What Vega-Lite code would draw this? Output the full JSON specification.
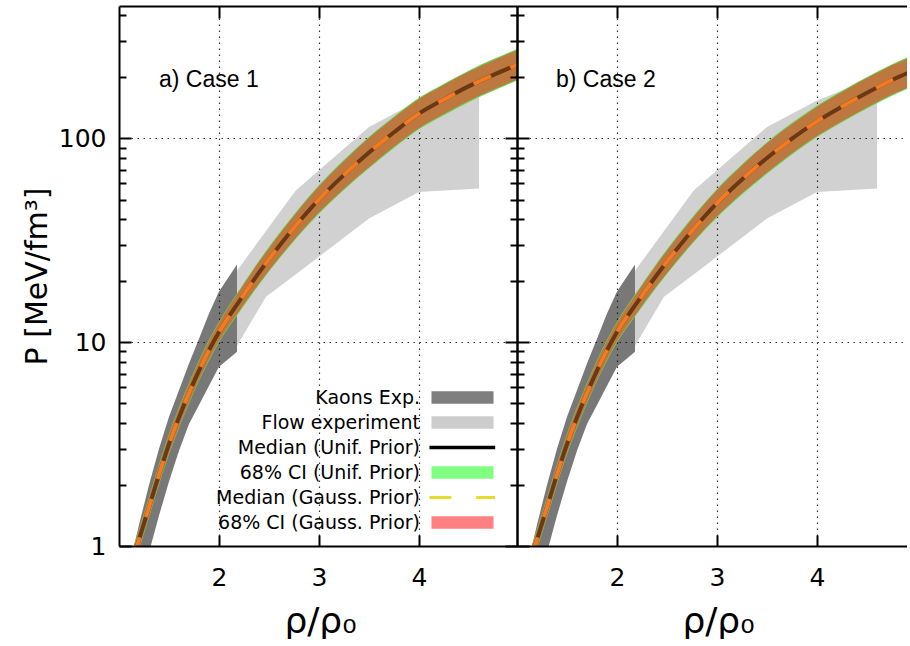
{
  "$schema": "https://vega.github.io/schema/vega-lite/v6.json",
  "autosize": {"type": "pad"},
  "padding": {"left": 22, "top": 5, "right": 0, "bottom": 0},
  "background": "white",
  "spacing": 0,
  "bounds": "flush",
  "config": {
    "view": {"stroke": null},
    "axis": {
      "domainColor": "black",
      "domainWidth": 2,
      "tickColor": "black",
      "tickWidth": 2,
      "labelFont": "DejaVu Sans",
      "labelColor": "black",
      "labelFontSize": 25,
      "labelOverlap": false,
      "labelFlush": false,
      "titleFont": "DejaVu Sans",
      "titleColor": "black",
      "titleFontWeight": "normal",
      "gridColor": "#333333",
      "gridDash": [1.5, 4.5],
      "gridWidth": 1.2
    }
  },
  "datasets": {
    "flow": [
      {"x": 2.18, "lo": 9.6, "hi": 22.4},
      {"x": 2.47, "lo": 16.7, "hi": 35.1},
      {"x": 2.73, "lo": 20.8, "hi": 52.4},
      {"x": 2.77, "lo": 21.5, "hi": 55.6},
      {"x": 3.5, "lo": 40.4, "hi": 113.6},
      {"x": 4.0, "lo": 54.5, "hi": 153},
      {"x": 4.6, "lo": 56.7, "hi": 200}
    ],
    "kaons": [
      {"x": 1.15, "lo": 0.5, "hi": 1.0},
      {"x": 1.2, "lo": 0.62, "hi": 1.27},
      {"x": 1.3, "lo": 0.93, "hi": 1.99},
      {"x": 1.4, "lo": 1.41, "hi": 3.0},
      {"x": 1.5, "lo": 2.07, "hi": 4.3},
      {"x": 1.6, "lo": 2.93, "hi": 5.8},
      {"x": 1.7, "lo": 3.97, "hi": 7.86},
      {"x": 1.8, "lo": 4.92, "hi": 10.4},
      {"x": 1.9, "lo": 6.1, "hi": 13.8},
      {"x": 2.0, "lo": 7.57, "hi": 17.7},
      {"x": 2.1, "lo": 8.3, "hi": 21.0},
      {"x": 2.18, "lo": 8.96, "hi": 24.0}
    ],
    "caseA": [
      {"x": 1.15, "med": 0.90, "gLo": 0.80, "gHi": 1.01, "rLo": 0.811, "rHi": 0.999},
      {"x": 1.18, "med": 1.00, "gLo": 0.889, "gHi": 1.125, "rLo": 0.901, "rHi": 1.11},
      {"x": 1.25, "med": 1.29, "gLo": 1.147, "gHi": 1.451, "rLo": 1.162, "rHi": 1.432},
      {"x": 1.3, "med": 1.55, "gLo": 1.378, "gHi": 1.744, "rLo": 1.396, "rHi": 1.721},
      {"x": 1.4, "med": 2.24, "gLo": 1.991, "gHi": 2.52, "rLo": 2.018, "rHi": 2.486},
      {"x": 1.5, "med": 3.16, "gLo": 2.809, "gHi": 3.555, "rLo": 2.847, "rHi": 3.508},
      {"x": 1.6, "med": 4.27, "gLo": 3.796, "gHi": 4.804, "rLo": 3.847, "rHi": 4.74},
      {"x": 1.7, "med": 5.62, "gLo": 4.996, "gHi": 6.323, "rLo": 5.063, "rHi": 6.238},
      {"x": 1.8, "med": 7.24, "gLo": 6.436, "gHi": 8.145, "rLo": 6.523, "rHi": 8.036},
      {"x": 1.9, "med": 9.12, "gLo": 8.107, "gHi": 10.26, "rLo": 8.216, "rHi": 10.12},
      {"x": 2.0, "med": 11.2, "gLo": 9.956, "gHi": 12.6, "rLo": 10.09, "rHi": 12.43},
      {"x": 2.2, "med": 15.8, "gLo": 13.92, "gHi": 17.93, "rLo": 14.11, "rHi": 17.70},
      {"x": 2.4, "med": 21.9, "gLo": 19.13, "gHi": 25.08, "rLo": 19.38, "rHi": 24.75},
      {"x": 2.6, "med": 29.5, "gLo": 25.54, "gHi": 34.07, "rLo": 25.88, "rHi": 33.63},
      {"x": 2.8, "med": 38.9, "gLo": 33.39, "gHi": 45.32, "rLo": 33.83, "rHi": 44.74},
      {"x": 3.0, "med": 50.1, "gLo": 42.64, "gHi": 58.87, "rLo": 43.19, "rHi": 58.12},
      {"x": 3.25, "med": 66.1, "gLo": 55.78, "gHi": 78.33, "rLo": 56.50, "rHi": 77.34},
      {"x": 3.5, "med": 85.1, "gLo": 71.21, "gHi": 101.7, "rLo": 72.12, "rHi": 100.4},
      {"x": 3.75, "med": 107, "gLo": 89.54, "gHi": 127.9, "rLo": 90.68, "rHi": 126.3},
      {"x": 4.0, "med": 132, "gLo": 110.5, "gHi": 157.7, "rLo": 111.9, "rHi": 155.8},
      {"x": 4.25, "med": 155, "gLo": 129.7, "gHi": 185.2, "rLo": 131.4, "rHi": 182.9},
      {"x": 4.5, "med": 180, "gLo": 150.6, "gHi": 215.1, "rLo": 152.5, "rHi": 212.4},
      {"x": 4.75, "med": 205, "gLo": 171.5, "gHi": 245.0, "rLo": 173.7, "rHi": 241.9},
      {"x": 4.98, "med": 229, "gLo": 191.6, "gHi": 273.7, "rLo": 194.1, "rHi": 270.2}
    ],
    "caseB": [
      {"x": 1.15, "med": 0.90, "gLo": 0.80, "gHi": 1.01, "rLo": 0.811, "rHi": 0.999},
      {"x": 1.18, "med": 1.00, "gLo": 0.889, "gHi": 1.125, "rLo": 0.901, "rHi": 1.11},
      {"x": 1.25, "med": 1.29, "gLo": 1.147, "gHi": 1.451, "rLo": 1.162, "rHi": 1.432},
      {"x": 1.3, "med": 1.55, "gLo": 1.378, "gHi": 1.744, "rLo": 1.396, "rHi": 1.721},
      {"x": 1.4, "med": 2.24, "gLo": 1.991, "gHi": 2.52, "rLo": 2.018, "rHi": 2.486},
      {"x": 1.5, "med": 3.16, "gLo": 2.809, "gHi": 3.555, "rLo": 2.847, "rHi": 3.508},
      {"x": 1.6, "med": 4.27, "gLo": 3.796, "gHi": 4.804, "rLo": 3.847, "rHi": 4.74},
      {"x": 1.7, "med": 5.62, "gLo": 4.996, "gHi": 6.323, "rLo": 5.063, "rHi": 6.238},
      {"x": 1.8, "med": 7.24, "gLo": 6.436, "gHi": 8.145, "rLo": 6.523, "rHi": 8.036},
      {"x": 1.9, "med": 9.12, "gLo": 8.107, "gHi": 10.26, "rLo": 8.216, "rHi": 10.12},
      {"x": 2.0, "med": 11.2, "gLo": 9.956, "gHi": 12.6, "rLo": 10.09, "rHi": 12.43},
      {"x": 2.2, "med": 15.6, "gLo": 13.74, "gHi": 17.71, "rLo": 13.93, "rHi": 17.47},
      {"x": 2.4, "med": 21.4, "gLo": 18.69, "gHi": 24.50, "rLo": 18.94, "rHi": 24.18},
      {"x": 2.6, "med": 28.6, "gLo": 24.76, "gHi": 33.03, "rLo": 25.09, "rHi": 32.60},
      {"x": 2.8, "med": 37.5, "gLo": 32.19, "gHi": 43.69, "rLo": 32.61, "rHi": 43.13},
      {"x": 3.0, "med": 48.0, "gLo": 40.85, "gHi": 56.40, "rLo": 41.38, "rHi": 55.68},
      {"x": 3.25, "med": 62.8, "gLo": 52.99, "gHi": 74.42, "rLo": 53.68, "rHi": 73.48},
      {"x": 3.5, "med": 80.0, "gLo": 66.95, "gHi": 95.60, "rLo": 67.80, "rHi": 94.40},
      {"x": 3.75, "med": 99.5, "gLo": 83.26, "gHi": 118.9, "rLo": 84.32, "rHi": 117.4},
      {"x": 4.0, "med": 121, "gLo": 101.3, "gHi": 144.6, "rLo": 102.5, "rHi": 142.8},
      {"x": 4.25, "med": 143, "gLo": 119.7, "gHi": 170.9, "rLo": 121.2, "rHi": 168.7},
      {"x": 4.5, "med": 167, "gLo": 139.7, "gHi": 199.6, "rLo": 141.5, "rHi": 197.1},
      {"x": 4.75, "med": 193, "gLo": 161.5, "gHi": 230.6, "rLo": 163.6, "rHi": 227.7},
      {"x": 4.98, "med": 216, "gLo": 180.8, "gHi": 258.1, "rLo": 183.1, "rHi": 254.9}
    ],
    "entries": [
      {"series": "Kaons Exp."},
      {"series": "Flow experiment"},
      {"series": "Median (Unif. Prior)"},
      {"series": "68% CI (Unif. Prior)"},
      {"series": "Median (Gauss. Prior)"},
      {"series": "68% CI (Gauss. Prior)"}
    ]
  },
  "hconcat": [
    {
      "width": 398,
      "height": 540,
      "resolve": {"axis": {"x": "independent", "y": "independent"}},
      "layer": [
        {
          "data": {"name": "flow"},
          "mark": {"type": "area", "color": "black", "opacity": 0.18, "clip": true},
          "encoding": {
            "x": {"field": "x", "type": "quantitative",
                  "scale": {"domain": [1, 4.98], "nice": false, "zero": false},
                  "axis": {"orient": "bottom", "values": [2, 3, 4], "tickSize": -11, "labelPadding": 30,
                           "title": "ρ/ρ₀", "titleFontSize": 36, "titlePadding": 14, "titleX": 201,
                           "grid": false, "zindex": 1}},
            "y": {"field": "lo", "type": "quantitative",
                  "scale": {"type": "log", "domain": [1, 445], "nice": false},
                  "axis": {"orient": "left", "values": [1, 10, 100], "format": "d", "tickSize": -12, "labelPadding": 25,
                           "title": "P [MeV/fm³]", "titleFontSize": 30, "titlePadding": 6,
                           "grid": false, "zindex": 1}},
            "y2": {"field": "hi"}
          }
        },
        {
          "data": {"name": "kaons"},
          "mark": {"type": "area", "color": "black", "opacity": 0.53, "clip": true},
          "encoding": {
            "x": {"field": "x", "type": "quantitative",
                  "axis": {"orient": "top", "values": [2, 3, 4], "tickSize": -12, "labels": false,
                           "title": null, "grid": false, "zindex": 1}},
            "y": {"field": "lo", "type": "quantitative", "scale": {"type": "log"},
                  "axis": {"orient": "left", "values": [2, 3, 4, 5, 6, 7, 8, 9, 20, 30, 40, 50, 60, 70, 80, 90, 200, 300, 400],
                           "tickSize": -7, "labels": false, "domain": false, "title": null, "grid": false, "zindex": 1}},
            "y2": {"field": "hi"}
          }
        },
        {
          "data": {"name": "caseA"},
          "mark": {"type": "area", "color": "#66d856", "interpolate": "monotone", "clip": true},
          "encoding": {
            "x": {"field": "x", "type": "quantitative",
                  "axis": {"orient": "bottom", "values": [2, 3, 4], "grid": true, "ticks": false, "labels": false,
                           "domain": false, "title": null, "zindex": 0}},
            "y": {"field": "gLo", "type": "quantitative", "scale": {"type": "log"},
                  "axis": {"orient": "right", "values": [1, 10, 100], "tickSize": -12, "labels": false,
                           "title": null, "grid": false, "zindex": 1}},
            "y2": {"field": "gHi"}
          }
        },
        {
          "data": {"name": "caseA"},
          "mark": {"type": "area", "color": "#bc783e", "interpolate": "monotone", "clip": true},
          "encoding": {
            "x": {"field": "x", "type": "quantitative", "axis": null},
            "y": {"field": "rLo", "type": "quantitative", "scale": {"type": "log"},
                  "axis": {"orient": "right", "values": [2, 3, 4, 5, 6, 7, 8, 9, 20, 30, 40, 50, 60, 70, 80, 90, 200, 300, 400],
                           "tickSize": -7, "labels": false, "domain": false, "title": null, "grid": false, "zindex": 1}},
            "y2": {"field": "rHi"}
          }
        },
        {
          "data": {"name": "caseA"},
          "mark": {"type": "line", "color": "#6a3814", "strokeWidth": 4, "interpolate": "monotone", "clip": true},
          "encoding": {
            "x": {"field": "x", "type": "quantitative", "axis": null},
            "y": {"field": "med", "type": "quantitative", "scale": {"type": "log"},
                  "axis": {"orient": "left", "values": [10, 100], "grid": true, "ticks": false, "labels": false,
                           "domain": false, "title": null, "zindex": 0}}
          }
        },
        {
          "data": {"name": "caseA"},
          "mark": {"type": "line", "color": "#f47a22", "strokeWidth": 4, "strokeDash": [19, 21], "interpolate": "monotone", "clip": true},
          "encoding": {
            "x": {"field": "x", "type": "quantitative", "axis": null},
            "y": {"field": "med", "type": "quantitative", "scale": {"type": "log"}, "axis": null}
          }
        },
        {
          "data": {"values": [{"label": "a) Case 1"}]},
          "mark": {"type": "text", "align": "left", "baseline": "middle", "font": "Liberation Sans", "fontSize": 23, "color": "black"},
          "encoding": {
            "x": {"datum": 1.4, "type": "quantitative", "axis": null},
            "y": {"datum": 192, "type": "quantitative", "scale": {"type": "log"}, "axis": null},
            "text": {"field": "label"}
          }
        },
        {
          "data": {"name": "entries"},
          "mark": {"type": "point", "filled": true, "opacity": 1, "clip": true},
          "encoding": {
            "x": {"datum": 0.5, "type": "quantitative", "axis": null},
            "y": {"datum": 0.5, "type": "quantitative", "scale": {"type": "log"}, "axis": null},
            "color": {"field": "series", "type": "nominal",
                      "scale": {"domain": ["Kaons Exp.", "Flow experiment", "Median (Unif. Prior)", "68% CI (Unif. Prior)", "Median (Gauss. Prior)", "68% CI (Gauss. Prior)"],
                                "range": ["#7f7f7f", "#cccccc", "#000000", "#80ff80", "#e6dc2a", "#ff8080"]},
                      "legend": {"orient": "none", "legendX": 84, "legendY": 382, "title": null, "padding": 0,
                                 "labelAlign": "right", "labelOffset": -52, "symbolOffset": 250,
                                 "labelFont": "DejaVu Sans", "labelFontSize": 19, "labelColor": "black", "labelLimit": 400,
                                 "symbolSize": 144, "symbolStrokeWidth": 0, "symbolOpacity": 1, "rowPadding": 5}},
            "shape": {"field": "series", "type": "nominal",
                      "scale": {"domain": ["Kaons Exp.", "Flow experiment", "Median (Unif. Prior)", "68% CI (Unif. Prior)", "Median (Gauss. Prior)", "68% CI (Gauss. Prior)"],
                                "range": ["M-5.17,-1.06H5.17V1.06H-5.17Z", "M-5.17,-1.06H5.17V1.06H-5.17Z", "M-5.5,-0.3H5.45V0.3H-5.5Z", "M-5.17,-1.06H5.17V1.06H-5.17Z", "M-5.5,-0.27H-1.88V0.27H-5.5Z M2.28,-0.27H5.45V0.27H2.28Z", "M-5.17,-1.06H5.17V1.06H-5.17Z"]}}
          }
        }
      ]
    },
    {
      "width": 390,
      "height": 540,
      "resolve": {"axis": {"x": "independent", "y": "independent"}},
      "layer": [
        {
          "data": {"name": "flow"},
          "mark": {"type": "area", "color": "black", "opacity": 0.18, "clip": true},
          "encoding": {
            "x": {"field": "x", "type": "quantitative",
                  "scale": {"domain": [1, 4.9], "nice": false, "zero": false},
                  "axis": {"orient": "bottom", "values": [2, 3, 4], "tickSize": -11, "labelPadding": 30,
                           "title": "ρ/ρ₀", "titleFontSize": 36, "titlePadding": 14, "titleX": 201,
                           "grid": false, "zindex": 1}},
            "y": {"field": "lo", "type": "quantitative",
                  "scale": {"type": "log", "domain": [1, 445], "nice": false},
                  "axis": {"orient": "left", "values": [1, 10, 100], "tickSize": -12, "labels": false,
                           "title": null, "grid": false, "zindex": 1}},
            "y2": {"field": "hi"}
          }
        },
        {
          "data": {"name": "kaons"},
          "mark": {"type": "area", "color": "black", "opacity": 0.53, "clip": true},
          "encoding": {
            "x": {"field": "x", "type": "quantitative",
                  "axis": {"orient": "top", "values": [2, 3, 4], "tickSize": -12, "labels": false,
                           "title": null, "grid": false, "zindex": 1}},
            "y": {"field": "lo", "type": "quantitative", "scale": {"type": "log"},
                  "axis": {"orient": "left", "values": [2, 3, 4, 5, 6, 7, 8, 9, 20, 30, 40, 50, 60, 70, 80, 90, 200, 300, 400],
                           "tickSize": -7, "labels": false, "domain": false, "title": null, "grid": false, "zindex": 1}},
            "y2": {"field": "hi"}
          }
        },
        {
          "data": {"name": "caseB"},
          "mark": {"type": "area", "color": "#66d856", "interpolate": "monotone", "clip": true},
          "encoding": {
            "x": {"field": "x", "type": "quantitative",
                  "axis": {"orient": "bottom", "values": [2, 3, 4], "grid": true, "ticks": false, "labels": false,
                           "domain": false, "title": null, "zindex": 0}},
            "y": {"field": "gLo", "type": "quantitative", "scale": {"type": "log"}, "axis": null},
            "y2": {"field": "gHi"}
          }
        },
        {
          "data": {"name": "caseB"},
          "mark": {"type": "area", "color": "#bc783e", "interpolate": "monotone", "clip": true},
          "encoding": {
            "x": {"field": "x", "type": "quantitative", "axis": null},
            "y": {"field": "rLo", "type": "quantitative", "scale": {"type": "log"}, "axis": null},
            "y2": {"field": "rHi"}
          }
        },
        {
          "data": {"name": "caseB"},
          "mark": {"type": "line", "color": "#6a3814", "strokeWidth": 4, "interpolate": "monotone", "clip": true},
          "encoding": {
            "x": {"field": "x", "type": "quantitative", "axis": null},
            "y": {"field": "med", "type": "quantitative", "scale": {"type": "log"},
                  "axis": {"orient": "left", "values": [10, 100], "grid": true, "ticks": false, "labels": false,
                           "domain": false, "title": null, "zindex": 0}}
          }
        },
        {
          "data": {"name": "caseB"},
          "mark": {"type": "line", "color": "#f47a22", "strokeWidth": 4, "strokeDash": [19, 21], "interpolate": "monotone", "clip": true},
          "encoding": {
            "x": {"field": "x", "type": "quantitative", "axis": null},
            "y": {"field": "med", "type": "quantitative", "scale": {"type": "log"}, "axis": null}
          }
        },
        {
          "data": {"values": [{"label": "b) Case 2"}]},
          "mark": {"type": "text", "align": "left", "baseline": "middle", "font": "Liberation Sans", "fontSize": 23, "color": "black"},
          "encoding": {
            "x": {"datum": 1.39, "type": "quantitative", "axis": null},
            "y": {"datum": 192, "type": "quantitative", "scale": {"type": "log"}, "axis": null},
            "text": {"field": "label"}
          }
        }
      ]
    }
  ]
}
